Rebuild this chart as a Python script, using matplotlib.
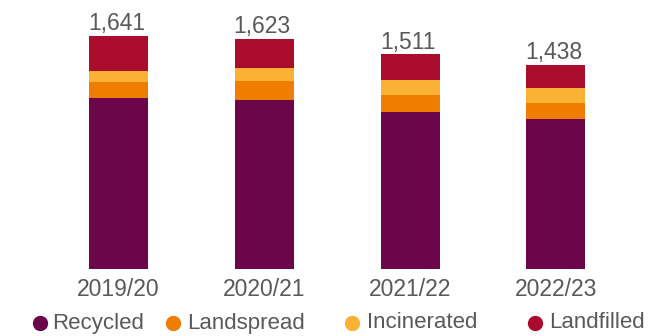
import matplotlib
matplotlib.use("Agg")
import matplotlib.pyplot as plt
from matplotlib.lines import Line2D
import numpy as np

years = ["2019/20", "2020/21", "2021/22", "2022/23"]
totals = [1641, 1623, 1511, 1438]
recycled = [1205, 1191, 1104, 1055]
landspread = [113, 132, 120, 113]
incinerated = [76, 92, 106, 106]
landfilled = [t - r - l - i for t, r, l, i in zip(totals, recycled, landspread, incinerated)]

series = [("Recycled", recycled, "#6B064A"),
          ("Landspread", landspread, "#EF7D00"),
          ("Incinerated", incinerated, "#F9B233"),
          ("Landfilled", landfilled, "#A90C2C")]

plt.rcParams['font.family'] = ['Liberation Sans', 'DejaVu Sans']
text_color = "#595959"

W, H = 650, 336
fig = plt.figure(figsize=(W / 100, H / 100), dpi=100)
ax = fig.add_axes([0, 67.5 / H, 1, 268.5 / H])

x = np.arange(len(years))
bottom = np.zeros(len(years))
for name, vals, col in series:
    ax.bar(x, vals, width=0.405, bottom=bottom, color=col, label=name, linewidth=0)
    bottom += np.array(vals)

for xi, t in zip(x, totals):
    ax.annotate(f"{t:,}", (xi, t), xytext=(-1.5, 0.5), textcoords="offset points",
                ha="center", va="bottom", fontsize=16.5, color=text_color)

ax.set_xlim(-0.813, 3.646)
ax.set_ylim(0, 1895)
ax.set_xticks(x)
ax.set_xticklabels(years, fontsize=16.5, color=text_color)
ax.tick_params(axis="x", length=0, pad=7)
ax.set_yticks([])
for s in ax.spines.values():
    s.set_visible(False)

# legend entries placed like the reference
marker_x = [40, 173, 352, 535]
text_x = [52, 187, 367, 549]
ly = 13 / H
for (name, _, col), mx, tx in zip(series, marker_x, text_x):
    fig.add_artist(Line2D([mx / W], [ly], marker="o", linestyle="none", markersize=10,
                          markerfacecolor=col, markeredgecolor=col,
                          transform=fig.transFigure))
    fig.text(tx / W, ly, name, ha="left", va="center", fontsize=16,
             color=text_color)

fig.savefig("out.png", dpi=100)
